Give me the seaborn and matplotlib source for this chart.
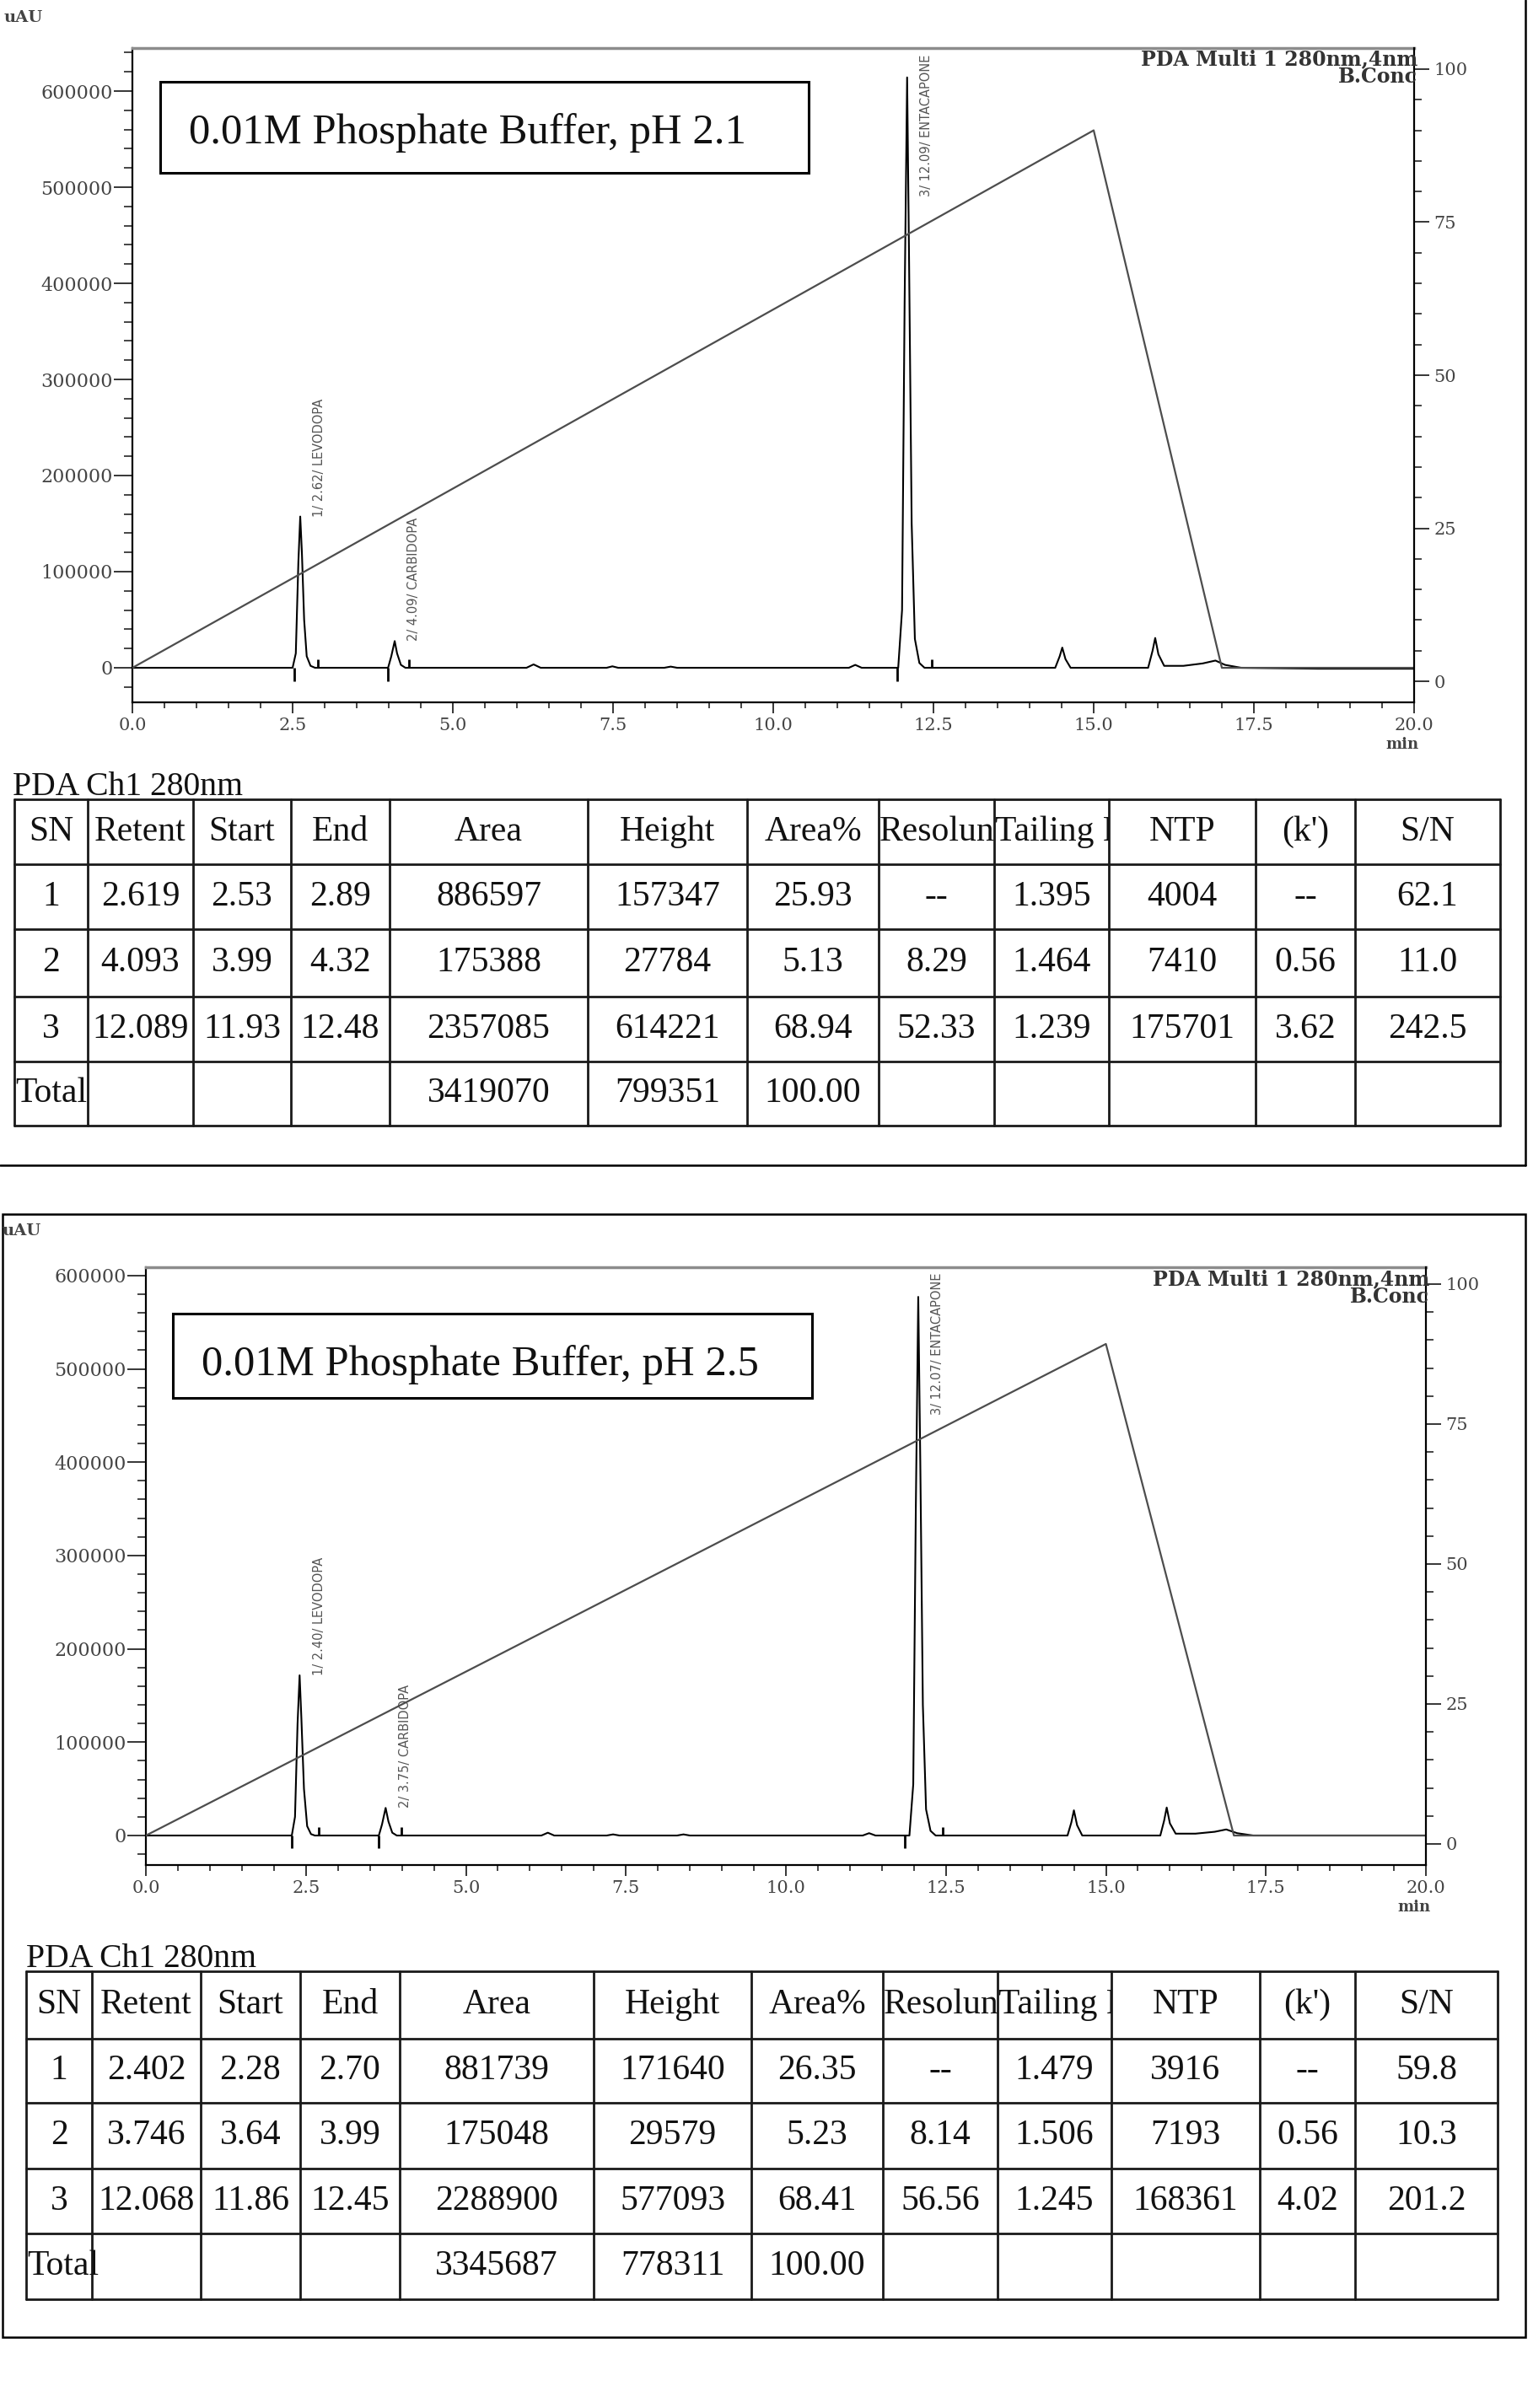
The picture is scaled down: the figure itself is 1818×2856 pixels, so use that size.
# %% [markdown]
# # HPLC chromatograms - phosphate buffer pH 2.1 vs pH 2.5

# %%
import matplotlib
matplotlib.use("Agg")
import matplotlib.pyplot as plt
from matplotlib.patches import Rectangle
from matplotlib.ticker import MultipleLocator, FormatStrFormatter
import pandas as pd
import seaborn as sns

sns.set_style("ticks")
plt.rcParams["font.family"] = ["DejaVu Serif"]

# %% [markdown]
# ### Data

# %%
compounds = ["LEVODOPA", "CARBIDOPA", "ENTACAPONE"]
buffer_titles = ["0.01M Phosphate Buffer, pH 2.1", "0.01M Phosphate Buffer, pH 2.5"]

# gradient program (B.Conc, %)
grad_time = [0.0, 15.0, 17.0, 20.0]
grad_ph21 = [2.2, 90.0, 2.2, 2.2]
grad_ph25 = [1.5, 89.3, 1.5, 1.5]

# detector trace pH 2.1 (min, uAU)
time_ph21 = [0.0, 2.50, 2.55, 2.59, 2.619, 2.645, 2.68, 2.72, 2.78, 2.85,
             3.99, 4.04, 4.093, 4.13, 4.19, 4.26,
             6.15, 6.26, 6.37, 7.40, 7.49, 7.58, 8.30, 8.40, 8.50,
             11.18, 11.28, 11.38,
             11.95, 12.01, 12.05, 12.089, 12.12, 12.16, 12.21, 12.28, 12.36,
             14.40, 14.47, 14.51, 14.56, 14.64,
             15.85, 15.92, 15.96, 16.01, 16.10,
             16.40, 16.70, 16.90, 17.05, 17.30, 18.50, 20.0]
signal_ph21 = [0, 0, 15000, 110000, 157347, 120000, 50000, 12000, 2000, 0,
               0, 12000, 27784, 15000, 3000, 0,
               0, 3500, 0, 0, 1500, 0, 0, 1200, 0,
               0, 3000, 0,
               0, 60000, 380000, 614221, 420000, 150000, 30000, 5000, 0,
               0, 12000, 21000, 9000, 0,
               0, 18000, 31000, 14000, 2000,
               2000, 4500, 7500, 3000, 0, -1000, -1000]

# detector trace pH 2.5 (min, uAU)
time_ph25 = [0.0, 2.28, 2.33, 2.37, 2.402, 2.43, 2.47, 2.52, 2.58, 2.64,
             3.64, 3.69, 3.746, 3.79, 3.85, 3.92,
             6.18, 6.28, 6.38, 7.20, 7.30, 7.40, 8.30, 8.40, 8.50,
             11.20, 11.30, 11.40,
             11.93, 11.99, 12.03, 12.068, 12.10, 12.14, 12.19, 12.26, 12.34,
             14.40, 14.46, 14.50, 14.55, 14.63,
             15.85, 15.91, 15.95, 16.00, 16.09,
             16.40, 16.70, 16.88, 17.05, 17.30, 20.0]
signal_ph25 = [0, 0, 20000, 120000, 171640, 125000, 50000, 10000, 1500, 0,
               0, 12000, 29579, 15000, 3000, 0,
               0, 3000, 0, 0, 1200, 0, 0, 1200, 0,
               0, 2500, 0,
               0, 55000, 350000, 577093, 400000, 140000, 28000, 5000, 0,
               0, 14000, 27000, 11000, 0,
               0, 16000, 30000, 13000, 2000,
               2000, 4000, 6500, 2500, 0, 0]

# peak tables (PDA Ch1 280nm)
sn = [1, 2, 3]
retent_ph21 = [2.619, 4.093, 12.089]
start_ph21 = [2.53, 3.99, 11.93]
end_ph21 = [2.89, 4.32, 12.48]
area_ph21 = [886597, 175388, 2357085]
height_ph21 = [157347, 27784, 614221]
area_pct_ph21 = [25.93, 5.13, 68.94]
resolution_ph21 = [None, 8.29, 52.33]
tailing_ph21 = [1.395, 1.464, 1.239]
ntp_ph21 = [4004, 7410, 175701]
kprime_ph21 = [None, 0.56, 3.62]
sn_ratio_ph21 = [62.1, 11.0, 242.5]
totals_ph21 = [3419070, 799351, 100.00]

retent_ph25 = [2.402, 3.746, 12.068]
start_ph25 = [2.28, 3.64, 11.86]
end_ph25 = [2.70, 3.99, 12.45]
area_ph25 = [881739, 175048, 2288900]
height_ph25 = [171640, 29579, 577093]
area_pct_ph25 = [26.35, 5.23, 68.41]
resolution_ph25 = [None, 8.14, 56.56]
tailing_ph25 = [1.479, 1.506, 1.245]
ntp_ph25 = [3916, 7193, 168361]
kprime_ph25 = [None, 0.56, 4.02]
sn_ratio_ph25 = [59.8, 10.3, 201.2]
totals_ph25 = [3345687, 778311, 100.00]

header = ["SN", "Retent", "Start", "End", "Area", "Height", "Area%",
          "Resolun", "Tailing F", "NTP", "(k')", "S/N"]

# %% [markdown]
# ### Figure helpers (pixel layout)

# %%
W, H = 1818, 2856
fig = plt.figure(figsize=(W / 100, H / 100), dpi=100)
fig.patch.set_facecolor("white")


def axes_px(left, top, right, bottom):
    return fig.add_axes([left / W, 1 - bottom / H, (right - left) / W, (bottom - top) / H])


def draw_chromatogram(box, ylim_sig, ylim_conc, t, sig, gt, gb, starts, ends, retent, heights):
    ax = axes_px(*box)
    ax.set_facecolor("none")
    sns.lineplot(x=t, y=sig, ax=ax, color="black", linewidth=1.5, sort=False, estimator=None)
    # peak start / end marks
    ax.vlines(starts, -14000, 0, color="black", lw=2.0)
    ax.vlines(ends, 0, 9000, color="black", lw=2.0)
    ax.set_xlim(0, 20)
    ax.set_ylim(*ylim_sig)
    ax.xaxis.set_major_locator(MultipleLocator(2.5))
    ax.xaxis.set_minor_locator(MultipleLocator(0.5))
    ax.yaxis.set_major_locator(MultipleLocator(100000))
    ax.yaxis.set_minor_locator(MultipleLocator(20000))
    ax.xaxis.set_major_formatter(FormatStrFormatter("%.1f"))
    ax.yaxis.set_major_formatter(FormatStrFormatter("%d"))
    ax.tick_params(axis="x", which="major", length=9, width=1.3, pad=4,
                   labelsize=15, labelcolor="#444444")
    ax.tick_params(axis="x", which="minor", length=5, width=1.2)
    ax.tick_params(axis="y", which="major", length=16, width=1.3, pad=1,
                   labelsize=16, labelcolor="#444444")
    ax.tick_params(axis="y", which="minor", length=7, width=1.2)
    ax.spines["right"].set_visible(False)
    ax.spines["top"].set_color("#8c8c8c")
    ax.spines["top"].set_linewidth(2.5)
    for s in ["left", "bottom"]:
        ax.spines[s].set_linewidth(1.6)
        ax.spines[s].set_color("black")
    ax.set_xlabel("")
    ax.set_ylabel("")

    ax2 = ax.twinx()
    sns.lineplot(x=gt, y=gb, ax=ax2, color="#4d4d4d", linewidth=1.6, sort=False, estimator=None)
    ax2.set_ylim(*ylim_conc)
    ax2.yaxis.set_major_locator(MultipleLocator(25))
    ax2.yaxis.set_minor_locator(MultipleLocator(5))
    ax2.yaxis.set_major_formatter(FormatStrFormatter("%d"))
    ax2.tick_params(axis="y", which="major", length=13, width=1.3, pad=4,
                    labelsize=15, labelcolor="#444444")
    ax2.tick_params(axis="y", which="minor", length=6.5, width=1.2)
    for s in ["left", "top", "bottom"]:
        ax2.spines[s].set_visible(False)
    ax2.spines["right"].set_linewidth(1.6)
    ax2.spines["right"].set_color("black")
    ax2.set_ylabel("")

    # peak labels, rotated
    ymax = ylim_sig[1]
    for n, rt, h, name in zip(sn, retent, heights, compounds):
        lab = f"{n}/ {rt:.2f}/ {name}"
        if h > 0.5 * ymax:
            ax.text(rt + 0.3, ymax * 0.99, lab, rotation=90, ha="center", va="top",
                    fontsize=10.5, color="#555555", family="DejaVu Sans")
        else:
            ax.text(rt + 0.3, h, lab, rotation=90, ha="center", va="bottom",
                    fontsize=10.5, color="#555555", family="DejaVu Sans")
    return ax


def fmt(v, spec):
    return "--" if v is None else format(v, spec)


# %%
draw_chromatogram((157, 57, 1677, 833), (-35965, 644737), (-3.44, 103.44),
                  time_ph21, signal_ph21, grad_time, grad_ph21,
                  start_ph21, end_ph21, retent_ph21, height_ph21)
draw_chromatogram((173, 1503, 1691, 2212), (-31617, 608853), (-3.77, 103.0),
                  time_ph25, signal_ph25, grad_time, grad_ph25,
                  start_ph25, end_ph25, retent_ph25, height_ph25)

# overlay in pixel coordinates for frames, boxes and tables
ov = fig.add_axes([0, 0, 1, 1], zorder=10)
ov.set_xlim(0, W)
ov.set_ylim(H, 0)
ov.axis("off")

# panel frames
ov.plot([1809, 1809], [0, 1382], color="black", lw=1.8)
ov.plot([0, 1809], [1382, 1382], color="black", lw=1.8)
ov.add_patch(Rectangle((3, 1440), 1806, 1332, fill=False, ec="black", lw=1.8))


def draw_table(xs, ys, df, totals):
    for x in xs:
        ov.plot([x, x], [ys[0], ys[-1]], color="#1a1a1a", lw=2.0)
    for y in ys:
        ov.plot([xs[0], xs[-1]], [y, y], color="#1a1a1a", lw=2.0)
    cy = [(ys[i] + ys[i + 1]) / 2 for i in range(len(ys) - 1)]
    tkw = dict(family=["Liberation Serif", "DejaVu Serif"], fontsize=30, color="#111111", va="center")
    for j, name in enumerate(header):
        x0, x1 = xs[j], xs[j + 1]
        if name in ("Resolun", "Tailing F"):
            t = ov.text(x0 + 1, cy[0], name, ha="left", clip_on=True, **tkw)
            t.set_clip_path(Rectangle((x0, ys[0]), x1 - x0, ys[1] - ys[0], transform=ov.transData))
        else:
            ov.text((x0 + x1) / 2, cy[0], name, ha="center", **tkw)
    for i, row in enumerate(df.itertuples(index=False)):
        for j, val in enumerate(row):
            ov.text((xs[j] + xs[j + 1]) / 2, cy[i + 1], val, ha="center", **tkw)
    ov.text(xs[0] + 1, cy[-1], "Total", ha="left", **tkw)
    ov.text((xs[4] + xs[5]) / 2, cy[-1], f"{totals[0]:d}", ha="center", **tkw)
    ov.text((xs[5] + xs[6]) / 2, cy[-1], f"{totals[1]:d}", ha="center", **tkw)
    ov.text((xs[6] + xs[7]) / 2, cy[-1], f"{totals[2]:.2f}", ha="center", **tkw)


def table_frame(retent, start, end, area, height, pct, res, tail, ntp, kp, snr):
    return pd.DataFrame({
        "SN": [str(v) for v in sn],
        "Retent": [fmt(v, ".3f") for v in retent],
        "Start": [fmt(v, ".2f") for v in start],
        "End": [fmt(v, ".2f") for v in end],
        "Area": [fmt(v, "d") for v in area],
        "Height": [fmt(v, "d") for v in height],
        "Area%": [fmt(v, ".2f") for v in pct],
        "Resolun": [fmt(v, ".2f") for v in res],
        "Tailing F": [fmt(v, ".3f") for v in tail],
        "NTP": [fmt(v, "d") for v in ntp],
        "(k')": [fmt(v, ".2f") for v in kp],
        "S/N": [fmt(v, ".1f") for v in snr],
    })


tab_ph21 = table_frame(retent_ph21, start_ph21, end_ph21, area_ph21, height_ph21, area_pct_ph21,
                       resolution_ph21, tailing_ph21, ntp_ph21, kprime_ph21, sn_ratio_ph21)
tab_ph25 = table_frame(retent_ph25, start_ph25, end_ph25, area_ph25, height_ph25, area_pct_ph25,
                       resolution_ph25, tailing_ph25, ntp_ph25, kprime_ph25, sn_ratio_ph25)

draw_table([17, 104, 229, 345, 462, 697, 886, 1042, 1179, 1315, 1489, 1607, 1779],
           [948, 1025, 1102, 1182, 1259, 1335], tab_ph21, totals_ph21)
draw_table([31, 109, 238, 356, 474, 704, 891, 1047, 1183, 1318, 1494, 1607, 1776],
           [2338, 2418, 2494, 2572, 2649, 2727], tab_ph25, totals_ph25)

# texts around the panels
serif = ["Liberation Serif", "DejaVu Serif"]
for (tx, ty), txt in zip([(15, 943), (31, 2333)], ["PDA Ch1 280nm", "PDA Ch1 280nm"]):
    ov.text(tx, ty, txt, ha="left", va="baseline", fontsize=28.5, family=serif, color="#111111")

for (bx, by, bw, bh), title in zip([(190, 97, 769, 108), (205, 1558, 758, 100)], buffer_titles):
    ov.add_patch(Rectangle((bx, by), bw, bh, fill=False, ec="black", lw=2.2))
    ov.text(bx + 34, by + 73, title, ha="left", va="baseline", fontsize=36.5,
            family=serif, color="#111111")

for ux, uy in [(5, 21), (3, 1460)]:
    ov.text(ux, uy, "uAU", ha="left", va="center", fontsize=14, weight="bold", color="#444444")
for mx, my in [(1682, 883), (1696, 2262)]:
    ov.text(mx, my, "min", ha="right", va="center", fontsize=13, weight="bold", color="#444444")
for px, py in [(1681, 70), (1695, 1517)]:
    ov.text(px, py, "PDA Multi 1 280nm,4nm", ha="right", va="center", fontsize=17,
            weight="bold", color="#333333")
    ov.text(px, py + 21, "B.Conc", ha="right", va="center", fontsize=17,
            weight="bold", color="#333333")

fig.savefig("out.png", dpi=100, facecolor="white")
